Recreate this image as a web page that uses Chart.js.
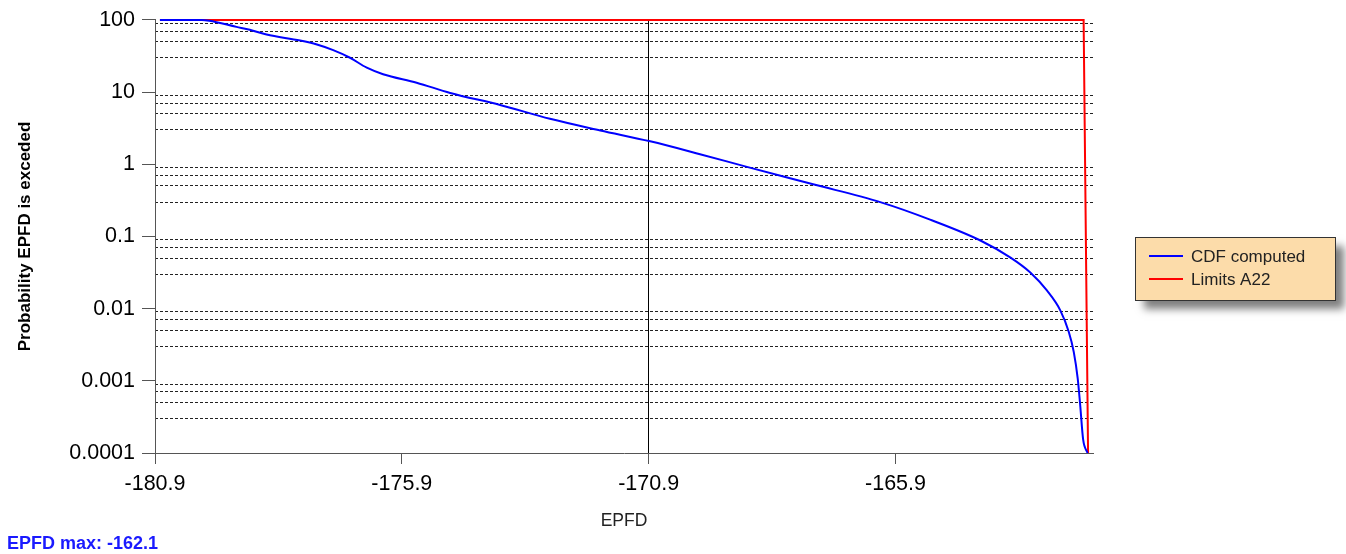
<!DOCTYPE html>
<html>
<head>
<meta charset="utf-8">
<title>EPFD CDF</title>
<script src="https://cdn.jsdelivr.net/npm/chart.js@4.4.1/dist/chart.umd.min.js"></script>
<style>
  html, body { margin: 0; padding: 0; background: #ffffff; }
  #wrap { width: 1346px; height: 554px; position: relative; }
</style>
</head>
<body>
<div id="wrap"><canvas id="c" width="1346" height="554"></canvas></div>
<script>
// Computed CDF: EPFD (dB) against probability of being exceeded (%)
const cdfEpfd = [-180.8, -179.95, -179.80, -179.25, -178.98, -178.64, -177.96, -177.62, -177.29, -176.95,
  -176.61, -176.28, -175.60, -174.92, -173.91, -172.90, -171.88, -170.87, -169.86, -168.91,
  -167.57, -166.21, -165.20, -164.18, -163.57, -163.17, -162.83, -162.56, -162.39, -162.29,
  -162.21, -162.16, -162.10, -162.01];
const cdfProb = [100, 100, 97.5, 80.1, 73.0, 62.6, 51.8, 45.6, 38.1, 29.9,
  21.8, 17.7, 13.5, 9.72, 6.63, 4.26, 2.94, 2.08, 1.38, 0.921,
  0.528, 0.299, 0.171, 0.0879, 0.0508, 0.0316, 0.0177, 0.0094, 0.00474, 0.00252,
  0.00108, 0.000466, 0.000154, 0.0001];

// Limit mask A22
const limitEpfd = [-180.8, -162.09, -162.0];
const limitProb = [100, 100, 0.0001];

// Axis ticks
const xTickValues = [-180.9, -175.9, -170.9, -165.9];
const xTickLabels = ['-180.9', '-175.9', '-170.9', '-165.9'];
const yTickValues = [0.0001, 0.001, 0.01, 0.1, 1, 10, 100];
const yTickLabels = ['0.0001', '0.001', '0.01', '0.1', '1', '10', '100'];
// Dashed horizontal grid levels
const yGridValues = [0.0003, 0.0005, 0.0007, 0.0009, 0.003, 0.005, 0.007, 0.009,
  0.03, 0.05, 0.07, 0.09, 0.3, 0.5, 0.7, 0.9, 3, 5, 7, 9, 30, 50, 70, 90];
const xCrossLine = -170.9;
const epfdMax = '-162.1';

const FONT = 'Arial, "Liberation Sans", Helvetica, sans-serif';

const toPoints = (xs, ys) => xs.map((x, i) => ({ x: x, y: ys[i] }));

// Legend box with drop shadow plus the EPFD max note
const extrasPlugin = {
  id: 'extras',
  afterDraw(chart) {
    const ctx = chart.ctx;
    const bx = 1135.5, by = 237.5, bw = 200, bh = 63;
    ctx.save();
    ctx.shadowColor = 'rgba(0,0,0,0.5)';
    ctx.shadowBlur = 8;
    ctx.shadowOffsetX = 8;
    ctx.shadowOffsetY = 8;
    ctx.fillStyle = '#FCDCAA';
    ctx.fillRect(bx, by, bw, bh);
    ctx.restore();

    ctx.save();
    ctx.strokeStyle = '#333333';
    ctx.lineWidth = 1;
    ctx.strokeRect(bx, by, bw, bh);
    const rows = chart.data.datasets;
    ctx.font = '17px ' + FONT;
    ctx.textBaseline = 'middle';
    ctx.textAlign = 'left';
    rows.forEach((ds, i) => {
      const yy = 256 + i * 23;
      ctx.strokeStyle = ds.borderColor;
      ctx.lineWidth = 2;
      ctx.beginPath();
      ctx.moveTo(1149, yy);
      ctx.lineTo(1183, yy);
      ctx.stroke();
      ctx.fillStyle = '#222222';
      ctx.fillText(ds.label, 1191, yy + 1);
    });

    ctx.fillStyle = '#1a1aff';
    ctx.font = 'bold 18px ' + FONT;
    ctx.textBaseline = 'alphabetic';
    ctx.fillText('EPFD max: ' + epfdMax, 7, 549);
    ctx.restore();
  }
};

const ctx = document.getElementById('c').getContext('2d');
new Chart(ctx, {
  type: 'line',
  data: {
    datasets: [
      {
        label: 'CDF computed',
        data: toPoints(cdfEpfd, cdfProb),
        borderColor: '#0000ff',
        borderWidth: 2,
        pointRadius: 0,
        cubicInterpolationMode: 'monotone',
        fill: false,
        clip: false
      },
      {
        label: 'Limits A22',
        data: toPoints(limitEpfd, limitProb),
        borderColor: '#ff0000',
        borderWidth: 2,
        pointRadius: 0,
        tension: 0,
        fill: false,
        clip: false
      }
    ]
  },
  options: {
    responsive: false,
    animation: false,
    events: [],
    layout: { padding: { left: 0, top: 18, right: 253, bottom: 0 } },
    plugins: {
      legend: { display: false },
      tooltip: { enabled: false },
      title: { display: false }
    },
    scales: {
      x: {
        type: 'linear',
        min: -180.9,
        max: -161.9,
        afterBuildTicks: s => { s.ticks = xTickValues.map(v => ({ value: v })); },
        afterFit: s => { s.height = 554 - 453; },
        ticks: {
          callback: (v, i) => xTickLabels[i],
          font: { family: FONT, size: 21.5 },
          color: '#000000',
          padding: 7,
          maxRotation: 0,
          autoSkip: false
        },
        grid: {
          color: c => (c.tick && c.tick.value === xCrossLine) ? '#000000' : 'rgba(0,0,0,0)',
          lineWidth: 1,
          tickColor: '#555555',
          tickLength: 11
        },
        border: { color: '#555555', width: 1 },
        title: {
          display: true,
          text: 'EPFD',
          font: { family: FONT, size: 17.5 },
          color: '#222222',
          padding: { top: 0, bottom: 22 }
        }
      },
      y: {
        type: 'logarithmic',
        position: 'left',
        min: 0.0001,
        max: 100,
        afterBuildTicks: s => { s.ticks = yTickValues.map(v => ({ value: v })); },
        afterFit: s => { s.width = 155; },
        ticks: {
          callback: (v, i) => yTickLabels[i],
          font: { family: FONT, size: 21.5 },
          color: '#000000',
          padding: 7,
          autoSkip: false
        },
        grid: {
          drawOnChartArea: false,
          tickColor: '#555555',
          tickLength: 13
        },
        border: { color: '#555555', width: 1 },
        title: {
          display: true,
          text: 'Probability EPFD is exceded',
          font: { family: FONT, size: 17, weight: 'bold' },
          color: '#000000',
          padding: { top: 15, bottom: 0 }
        }
      },
      yGrid: {
        type: 'logarithmic',
        position: 'left',
        min: 0.0001,
        max: 100,
        afterBuildTicks: s => { s.ticks = yGridValues.map(v => ({ value: v })); },
        afterFit: s => { s.width = 0; },
        ticks: { display: false },
        grid: {
          drawTicks: false,
          color: '#222222',
          lineWidth: 1
        },
        border: { display: false, dash: [3, 2] }
      }
    }
  },
  plugins: [extrasPlugin]
});
</script>
</body>
</html>
